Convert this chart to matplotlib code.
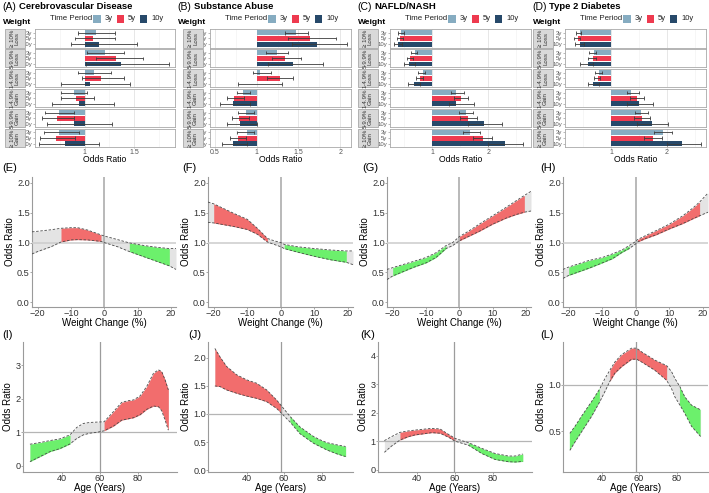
import matplotlib
matplotlib.use('Agg')
import matplotlib.pyplot as plt
from matplotlib.patches import Rectangle
import numpy as np

plt.rcParams['font.family'] = ['Liberation Sans', 'DejaVu Sans']

# ---------------- data: top row (odds ratios by weight change group) ----------------
periods = ['3y', '5y', '10y']
weight_groups = ['≥ 10%\nLoss', '5-9.9%\nLoss', '1-4.9%\nLoss', '1-4.9%\nGain', '5-9.9%\nGain', '≥ 10%\nGain']
period_colors = ['#86acc1', '#ee3a4f', '#27496a']

cvd_or = [[1.11, 1.085, 1.146], [1.20, 1.32, 1.37], [1.09, 1.16, 1.055],
          [0.89, 0.915, 0.94], [0.74, 0.72, 0.89], [0.745, 0.71, 0.80]]
cvd_lo = [[0.935, 0.90, 0.86], [1.02, 1.11, 1.01], [0.935, 0.97, 0.76],
          [0.76, 0.76, 0.67], [0.60, 0.57, 0.62], [0.59, 0.55, 0.54]]
cvd_hi = [[1.31, 1.31, 1.53], [1.40, 1.59, 1.85], [1.265, 1.40, 1.46],
          [1.02, 1.09, 1.30], [0.89, 0.895, 1.275], [0.94, 0.90, 1.14]]

sa_or = [[1.47, 1.64, 1.72], [1.24, 1.34, 1.44], [1.04, 1.28, 1.00],
         [0.84, 0.73, 0.72], [0.87, 0.79, 0.80], [0.88, 0.77, 0.72]]
sa_lo = [[1.34, 1.38, 1.42], [1.11, 1.18, 1.14], [0.95, 1.12, 0.77],
         [0.76, 0.64, 0.56], [0.78, 0.70, 0.64], [0.76, 0.68, 0.58]]
sa_hi = [[1.62, 1.95, 2.08], [1.38, 1.53, 1.80], [1.17, 1.44, 1.30],
         [0.92, 0.85, 0.92], [0.97, 0.91, 1.00], [0.97, 0.87, 0.88]]

nafld_or = [[0.45, 0.43, 0.39], [0.69, 0.60, 0.59], [0.84, 0.78, 0.67],
            [1.42, 1.51, 1.43], [1.60, 1.64, 1.92], [1.68, 1.90, 2.29]]
nafld_lo = [[0.38, 0.375, 0.32], [0.62, 0.54, 0.50], [0.74, 0.71, 0.57],
            [1.34, 1.38, 1.29], [1.48, 1.50, 1.64], [1.55, 1.73, 2.00]]
nafld_hi = [[0.49, 0.47, 0.46], [0.72, 0.65, 0.69], [0.87, 0.84, 0.78],
            [1.57, 1.64, 1.75], [1.73, 1.79, 2.24], [1.85, 2.07, 2.61]]

t2d_or = [[0.44, 0.41, 0.45], [0.69, 0.67, 0.59], [0.79, 0.76, 0.68],
          [1.35, 1.46, 1.51], [1.54, 1.55, 1.73], [1.93, 1.75, 2.28]]
t2d_lo = [[0.37, 0.34, 0.35], [0.61, 0.59, 0.44], [0.72, 0.69, 0.59],
          [1.28, 1.34, 1.28], [1.43, 1.42, 1.47], [1.78, 1.60, 2.00]]
t2d_hi = [[0.46, 0.44, 0.51], [0.73, 0.73, 0.67], [0.83, 0.81, 0.79],
          [1.50, 1.60, 1.76], [1.67, 1.70, 2.02], [2.10, 1.91, 2.62]]

top_titles = [('(A)', 'Cerebrovascular Disease'), ('(B)', 'Substance Abuse'),
              ('(C)', 'NAFLD/NASH'), ('(D)', 'Type 2 Diabetes')]
top_data = [(cvd_or, cvd_lo, cvd_hi), (sa_or, sa_lo, sa_hi),
            (nafld_or, nafld_lo, nafld_hi), (t2d_or, t2d_lo, t2d_hi)]

# ---------------- data: middle row (weight change curves) ----------------
e_x = [-21.7, -20, -16, -13, -10, -8, -5, -1, 0, 4, 7.5, 12, 16, 19.5, 21.5]
e_hi = [1.18, 1.19, 1.215, 1.24, 1.25, 1.25, 1.21, 1.13, 1.11, 1.05, 0.995, 0.95, 0.92, 0.90, 0.90]
e_lo = [0.81, 0.85, 0.93, 1.01, 1.045, 1.05, 1.045, 1.02, 1.0, 0.93, 0.85, 0.76, 0.68, 0.61, 0.55]

f_x = [-21.7, -20, -17, -14, -10, -7, -4, -2, 0, 1, 5, 10, 15, 19.5, 21.5]
f_hi = [1.68, 1.65, 1.57, 1.49, 1.39, 1.24, 1.07, 1.03, 1.0, 0.97, 0.93, 0.90, 0.875, 0.86, 0.86]
f_lo = [1.34, 1.33, 1.30, 1.27, 1.22, 1.14, 1.01, 0.97, 0.93, 0.90, 0.84, 0.77, 0.71, 0.67, 0.63]

g_x = [-21.7, -20, -17, -14, -10, -7, -4, -2, 0, 3, 6, 10, 14, 17, 19.5, 21.5]
g_hi = [0.55, 0.58, 0.63, 0.68, 0.75, 0.83, 0.95, 1.0, 1.1, 1.2, 1.31, 1.45, 1.59, 1.70, 1.79, 1.86]
g_lo = [0.38, 0.44, 0.51, 0.58, 0.66, 0.75, 0.90, 0.95, 1.03, 1.11, 1.19, 1.31, 1.41, 1.47, 1.51, 1.53]

h_x = [-21.7, -20, -17, -14, -10, -7, -4, -2, 0, 0.5, 3, 6, 10, 14, 17, 19, 21.5]
h_hi = [0.55, 0.59, 0.645, 0.70, 0.75, 0.81, 0.88, 0.95, 1.02, 1.05, 1.12, 1.20, 1.31, 1.45, 1.58, 1.68, 1.83]
h_lo = [0.40, 0.45, 0.51, 0.57, 0.66, 0.73, 0.84, 0.90, 0.98, 1.01, 1.07, 1.13, 1.23, 1.32, 1.40, 1.45, 1.51]

# ---------------- data: bottom row (age curves) ----------------
i_age = [23.3, 28.6, 33.9, 39.1, 44.4, 47.9, 51.4, 54.9, 58.4, 62.3, 67.2, 71.6, 75.1, 77.7,
         81.2, 84.7, 88.3, 90.9, 92.6, 94.4, 96.1]
i_hi = [0.64, 0.69, 0.75, 0.80, 0.92, 1.14, 1.26, 1.29, 1.30, 1.31, 1.61, 1.89, 1.94, 1.96,
        2.08, 2.36, 2.76, 2.86, 2.81, 2.56, 2.26]
i_lo = [0.12, 0.27, 0.42, 0.51, 0.65, 0.81, 0.92, 0.97, 0.995, 1.04, 1.18, 1.36, 1.40, 1.43,
        1.52, 1.68, 1.78, 1.76, 1.64, 1.36, 1.06]

j_age = [23.1, 25.8, 29.3, 34.7, 40.0, 45.3, 50.7, 56.0, 58.7, 60.4, 63.1, 68.4, 75.6, 79.1, 82.7, 88.0, 92.8]
j_hi = [2.17, 2.02, 1.85, 1.70, 1.61, 1.55, 1.43, 1.25, 1.14, 1.07, 0.96, 0.77, 0.60, 0.54, 0.49, 0.45, 0.42]
j_lo = [1.50, 1.49, 1.43, 1.37, 1.32, 1.28, 1.22, 1.10, 1.01, 0.95, 0.86, 0.65, 0.48, 0.42, 0.36, 0.29, 0.24]

k_age = [23.0, 26.8, 31.2, 35.6, 39.1, 47.9, 52.3, 56.7, 60.2, 63.7, 67.2, 74.2, 81.2, 88.2, 91.8, 95.8]
k_hi = [1.03, 1.17, 1.32, 1.37, 1.40, 1.46, 1.44, 1.25, 1.11, 1.03, 0.96, 0.76, 0.58, 0.49, 0.49, 0.56]
k_lo = [0.62, 0.84, 1.05, 1.17, 1.23, 1.31, 1.29, 1.15, 1.01, 0.94, 0.87, 0.58, 0.37, 0.29, 0.28, 0.30]

l_age = [23.1, 25.8, 29.3, 34.7, 39.1, 41.8, 44.4, 47.1, 50.7, 56.0, 58.7, 61.3, 68.4, 74.7,
         77.3, 79.1, 81.8, 84.4, 88.0, 92.8]
l_hi = [0.475, 0.55, 0.66, 0.82, 0.96, 1.07, 1.16, 1.25, 1.33, 1.40, 1.40, 1.36, 1.27, 1.21,
        1.145, 1.07, 0.98, 0.87, 0.78, 0.73]
l_lo = [0.29, 0.38, 0.49, 0.66, 0.82, 0.93, 1.04, 1.13, 1.20, 1.28, 1.28, 1.25, 1.16, 1.05,
        0.96, 0.87, 0.78, 0.69, 0.55, 0.44]

RED = '#f26d6d'
GREEN = '#6cf06c'
GRAY = '#e4e4e4'

W, H = 709, 493
fig = plt.figure(figsize=(W / 100, H / 100), dpi=100)


def add_ax(l, t, r, b):
    return fig.add_axes([l / W, 1 - b / H, (r - l) / W, (b - t) / H])


def ftext(x, y, s, **kw):
    return fig.text(x / W, 1 - y / H, s, **kw)


def frect(x, y, w, h, **kw):
    fig.add_artist(Rectangle((x / W, 1 - (y + h) / H), w / W, h / H,
                             transform=fig.transFigure, **kw))


# ---------------- top row ----------------
top_layout = [
    dict(plot=(35, 175), strip=5, tx=2, xlim=(0.5, 1.91), ticks=[1, 1.5], minor=[0.75, 1.25, 1.75]),
    dict(plot=(210, 351), strip=183, tx=177, xlim=(0.44, 2.13), ticks=[0.5, 1, 1.5, 2], minor=[0.75, 1.25, 1.75]),
    dict(plot=(390, 531), strip=358, tx=357, xlim=(0.245, 2.76), ticks=[1, 2], minor=[0.5, 1.5, 2.5]),
    dict(plot=(565, 706), strip=533, tx=532, xlim=(0.174, 2.705), ticks=[1, 2], minor=[0.5, 1.5, 2.5]),
]
facet_top0, facet_step, facet_h = 29.3, 19.95, 18.2

for p in range(4):
    lay = top_layout[p]
    orv, lov, hiv = top_data[p]
    pl, pr = lay['plot']
    # title
    ftext(lay['tx'], 6.5, top_titles[p][0], fontsize=7.5, ha='left', va='center')
    ftext(lay['tx'] + 17, 6.5, top_titles[p][1], fontsize=6.8, fontweight='bold', ha='left', va='center')
    ftext(lay['tx'] + 1, 22, 'Weight', fontsize=6, fontweight='bold', ha='left', va='center')
    # legend
    lx = pl + 15
    ftext(lx, 19, 'Time Period', fontsize=5.7, ha='left', va='center', color='#222222')
    for k, (off_box, off_lab) in enumerate([(43.3, 55), (66.7, 78), (90, 101.7)]):
        frect(lx + off_box, 15.5, 7.3, 7, facecolor=period_colors[k], edgecolor='none')
        ftext(lx + off_lab, 19, periods[k], fontsize=5.5, ha='left', va='center', color='#222222')
    for g in range(6):
        t = facet_top0 + g * facet_step
        ax = add_ax(pl, t, pr, t + facet_h)
        ax.set_xlim(*lay['xlim'])
        ax.set_ylim(2.6, -0.6)
        ax.set_axisbelow(True)
        ax.set_xticks(lay['ticks'])
        ax.set_xticks(lay['minor'], minor=True)
        ax.grid(axis='x', which='major', color='#e3e3e3', lw=0.6)
        ax.grid(axis='x', which='minor', color='#f0f0f0', lw=0.4)
        ys = np.arange(3)
        widths = [v - 1 for v in orv[g]]
        ax.barh(ys, widths, left=1, height=0.86, color=period_colors, zorder=2)
        ax.hlines(ys, lov[g], hiv[g], color='#3a3a3a', lw=0.6, zorder=3)
        ax.vlines(lov[g], ys - 0.32, ys + 0.32, color='#3a3a3a', lw=0.6, zorder=3)
        ax.vlines(hiv[g], ys - 0.32, ys + 0.32, color='#3a3a3a', lw=0.6, zorder=3)
        ax.set_yticks(ys)
        ax.set_yticklabels(periods)
        ax.tick_params(axis='y', labelsize=4.3, labelcolor='#555555', length=1.2, width=0.4,
                       color='#888888', pad=0.8)
        if g == 5:
            ax.set_xticklabels([f'{v:g}' for v in lay['ticks']])
            ax.tick_params(axis='x', labelsize=5, labelcolor='#555555', length=0.8, width=0.4,
                           color='#888888', pad=0.3)
        else:
            ax.tick_params(axis='x', labelbottom=False, length=0)
        ax.tick_params(axis='x', which='minor', length=0)
        for s in ax.spines.values():
            s.set_color('#a8a8a8')
            s.set_linewidth(0.6)
        # strip
        frect(lay['strip'], t, 20, facet_h, facecolor='#d9d9d9', edgecolor='#9a9a9a', lw=0.5)
        ftext(lay['strip'] + 10, t + facet_h / 2, weight_groups[g], fontsize=4.4, rotation=90,
              ha='center', va='center', color='#333333', linespacing=1.0, multialignment='center')
    ftext((pl + pr) / 2, 159.5, 'Odds Ratio', fontsize=6.2, ha='center', va='center')


# ---------------- ribbon helper ----------------
def ribbon(ax, x, lo, hi, rng=None):
    x = np.asarray(x, float)
    lo = np.asarray(lo, float)
    hi = np.asarray(hi, float)
    inr = np.ones_like(x, bool) if rng is None else (x >= rng[0]) & (x <= rng[1])
    ax.fill_between(x, lo, hi, color=GRAY, lw=0, zorder=2)
    ax.fill_between(x, lo, hi, where=inr & (lo > 1), color=RED, lw=0, zorder=3)
    ax.fill_between(x, lo, hi, where=inr & (hi < 1), color=GREEN, lw=0, zorder=3)
    ax.plot(x, lo, ls=(0, (3, 2)), color='#4a4a4a', lw=0.6, zorder=6)
    ax.plot(x, hi, ls=(0, (3, 2)), color='#4a4a4a', lw=0.6, zorder=6)


def style_axes(ax, xlabel, label_y):
    for k in ['top', 'right']:
        ax.spines[k].set_visible(False)
    for k in ['left', 'bottom']:
        ax.spines[k].set_color('#9a9a9a')
        ax.spines[k].set_linewidth(0.8)
    ax.tick_params(labelsize=6.6, labelcolor='#333333', length=1.2, width=0.6, color='#9a9a9a', pad=0.4)
    ax.set_ylabel('Odds Ratio', fontsize=7, labelpad=1.5)
    ax.set_xlabel(xlabel, fontsize=7)
    ax.xaxis.set_label_coords(0.5, label_y)
    ax.xaxis.label.set_verticalalignment('center')


# ---------------- middle row ----------------
mid_boxes = [(32, 177, 176, 307), (208, 177, 353, 307), (387, 177, 531, 307), (563, 177, 708, 307)]
mid_labels = [('(E)', 2), ('(F)', 182), ('(G)', 362), ('(H)', 540)]
mid_data = [(e_x, e_lo, e_hi), (f_x, f_lo, f_hi), (g_x, g_lo, g_hi), (h_x, h_lo, h_hi)]
for p in range(4):
    ax = add_ax(*mid_boxes[p])
    x, lo, hi = mid_data[p]
    ax.axhline(1, color='#cccccc', lw=1.1, zorder=4)
    ax.axvline(0, color='#a6a6a6', lw=1.1, zorder=4)
    ribbon(ax, x, lo, hi, rng=(-20, 19.5))
    ax.set_xlim(-21.7, 21.5)
    ax.set_ylim(-0.08, 2.1)
    ax.set_xticks([-20, -10, 0, 10, 20])
    ax.set_yticks([0, 0.5, 1.0, 1.5, 2.0])
    ax.set_yticklabels(['0.0', '0.5', '1.0', '1.5', '2.0'])
    style_axes(ax, 'Weight Change (%)', -(323.5 - 307) / 130)
    ftext(mid_labels[p][1], 167.5, mid_labels[p][0], fontsize=8, ha='left', va='center')

# ---------------- bottom row ----------------
bot_boxes = [(22.7, 341.7, 176.7, 471.7), (208.3, 341.7, 353.3, 471.7),
             (377.7, 341.7, 531.7, 471.7), (563.3, 341.7, 708.3, 471.7)]
bot_labels = [('(I)', 2), ('(J)', 188), ('(K)', 360), ('(L)', 540)]
bot_data = [(i_age, i_lo, i_hi), (j_age, j_lo, j_hi), (k_age, k_lo, k_hi), (l_age, l_lo, l_hi)]
bot_xlim = [(19.5, 100.5), (19.6, 96.9), (19.5, 100.5), (19.6, 96.9)]
bot_ylim = [(-0.18, 3.7), (-0.03, 2.29), (-0.06, 4.5), (0.058, 1.47)]
bot_yticks = [([0, 1, 2, 3], ['0', '1', '2', '3']),
              ([0, 0.5, 1, 1.5, 2], ['0.0', '0.5', '1.0', '1.5', '2.0']),
              ([0, 1, 2, 3, 4], ['0', '1', '2', '3', '4']),
              ([0.5, 1.0], ['0.5', '1.0'])]
bot_vline = [60, 58.6, 59.5, 58.2]
for p in range(4):
    ax = add_ax(*bot_boxes[p])
    x, lo, hi = bot_data[p]
    ax.axhline(1, color='#b5b5b5', lw=0.9, zorder=4)
    ax.axvline(bot_vline[p], color='#9c9c9c', lw=0.9, zorder=4)
    ribbon(ax, x, lo, hi)
    ax.set_xlim(*bot_xlim[p])
    ax.set_ylim(*bot_ylim[p])
    ax.set_xticks([40, 60, 80])
    ax.set_yticks(bot_yticks[p][0])
    ax.set_yticklabels(bot_yticks[p][1])
    style_axes(ax, 'Age (Years)', -(488 - 471.7) / 130)
    ftext(bot_labels[p][1], 335, bot_labels[p][0], fontsize=8, ha='left', va='center')

fig.savefig('out.png', dpi=100)
